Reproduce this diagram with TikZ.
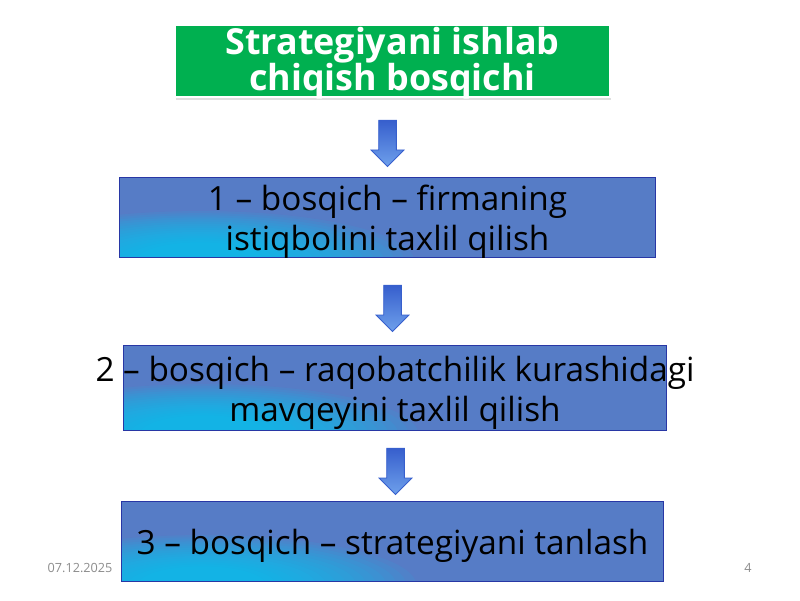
\documentclass[tikz,border=0pt]{standalone}
\usepackage{fontspec}
\setmainfont{Open Sans}
\usepackage{tikz}
\usetikzlibrary{shapes.arrows,shadows}
\definecolor{titlegreen}{RGB}{0,176,80}
\definecolor{boxblue}{RGB}{86,124,198}
\definecolor{boxcyan}{RGB}{0,205,248}
\definecolor{boxedge}{RGB}{40,55,165}
\definecolor{arrowlight}{RGB}{110,160,235}
\definecolor{arrowdark}{RGB}{55,95,205}
\definecolor{footgray}{RGB}{140,140,140}
\tikzset{
  titlebox/.style = {rectangle, fill=titlegreen, draw=white, line width=2pt,
    minimum width=10.875cm, minimum height=1.8cm,
    drop shadow={opacity=0.25, shadow xshift=1pt, shadow yshift=-2pt}},
  titletext/.style = {align=center, text=white, inner sep=0pt,
    font=\fontsize{25.5}{25.6}\selectfont\bfseries},
  % soft cyan glow in the lower left corner
  stagebox/.style = {rectangle, fill=boxblue, draw=boxedge, line width=0.7pt,
    minimum height=2cm,
    path picture={\foreach \k in {1,...,16}
      \fill[boxcyan, opacity=0.08]
      ([xshift=2cm,yshift=-0.1cm]path picture bounding box.south west)
      ellipse [x radius={5.6cm-0.25cm*\k}, y radius={1.3cm-0.052cm*\k}];}},
  stagetext/.style = {align=center, text=black, inner sep=0pt,
    font=\fontsize{23.7}{28.5}\selectfont},
  downarrow/.style = {single arrow, rotate=-90, draw=arrowdark, line width=0.6pt,
    top color=arrowdark, bottom color=arrowlight,
    minimum height=1.15cm, inner xsep=0pt, inner ysep=0.21cm,
    single arrow head extend=0.19cm},
  foot/.style = {text=footgray, font=\fontsize{9}{10}\selectfont, inner sep=0pt}
}
\begin{document}
\begin{tikzpicture}[x=0.025cm,y=-0.025cm]
  \useasboundingbox (0,0) rectangle (800,600);

  \node[titlebox] (title) at (392.5,61) {};
  \node[titletext] (titlet) at (392.5,63) {Strategiyani ishlab\\chiqish bosqichi};

  \node[stagebox, minimum width=13.375cm] (s1) at (387.5,217) {};
  \node[stagetext] (s1t) at (387.5,222) {1 -- bosqich -- firmaning\\istiqbolini taxlil qilish};

  \node[stagebox, minimum width=13.55cm, minimum height=2.125cm] (s2) at (395,387.5) {};
  \node[stagetext] (s2t) at (395,393) {2 -- bosqich -- raqobatchilik kurashidagi\\mavqeyini taxlil qilish};

  \node[stagebox, minimum width=13.525cm] (s3) at (392.5,541) {};
  \node[stagetext] (s3t) at (392.5,546) {3 -- bosqich -- strategiyani tanlash};

  % arrows between stages
  \node[downarrow] (a1) at (387.5,139) {};
  \node[downarrow] (a2) at (392.5,304) {};
  \node[downarrow] (a3) at (395.5,467) {};

  \node[foot] (date) at (80,568) {07.12.2025};
  \node[foot] (page) at (748,568) {4};
\end{tikzpicture}
\end{document}
